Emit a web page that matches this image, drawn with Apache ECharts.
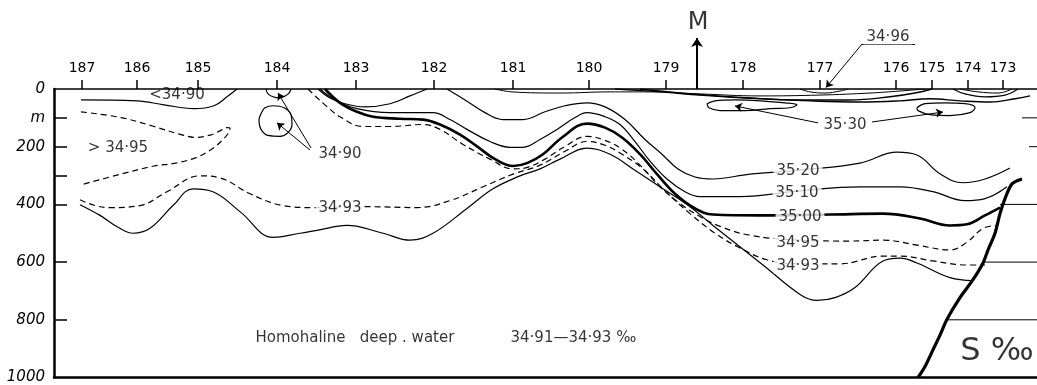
<!DOCTYPE html>
<html><head><meta charset="utf-8">
<script src="https://cdn.jsdelivr.net/npm/echarts@6/dist/echarts.min.js"></script>
<style>html,body{margin:0;padding:0;background:#fff}#c{width:1037px;height:385px}</style>
</head><body><div id="c"></div>
<script>
// ---- axes ----
const stations   = [187,186,185,184,183,182,181,180,179,178,177,176,175,174,173];
const stationPos = [28,83,144,223,302,380,459,535,612,689,766,842,878,914,949]; // distance along section
const depthTicks  = [100,200,300,400,600,800];
const depthLabels = [0,100,200,400,600,800,1000];
const depthUnit = 'm';

// ---- isohalines: [distance, depth m] ----
const iso3520a = [[264,0],[276,31],[291,51],[311,62],[336,51],[356,24],[373,0]];
const iso3520b = [[393,0],[411,38],[431,82],[449,106],[469,106],[491,79],[511,58],[533,48],[551,62],[571,106],[591,175],[608,226],[624,277],[641,305],[659,312],[696,295],[746,281],[806,257],[843,219],[863,229],[886,294],[909,325],[931,312],[956,274]];
const iso3510 = [[266,0],[281,38],[303,68],[336,82],[379,82],[396,106],[413,140],[436,182],[456,202],[469,202],[486,175],[503,140],[521,99],[533,82],[551,96],[566,123],[581,182],[596,250],[613,312],[631,356],[646,373],[686,373],[746,353],[806,339],[846,339],[879,356],[911,387],[931,380],[953,339]];
const iso3500 = [[271,0],[286,48],[303,79],[319,96],[346,103],[369,106],[386,123],[406,158],[423,199],[441,243],[459,267],[473,257],[489,226],[508,168],[533,120],[551,134],[568,168],[586,226],[603,295],[621,363],[641,414],[659,435],[706,438],[776,435],[829,432],[866,449],[896,473],[913,469],[931,438],[946,411]];
const iso3495 = [[254,0],[262,27],[271,55],[286,96],[309,130],[336,130],[369,123],[386,140],[409,192],[436,243],[459,277],[474,271],[491,243],[511,199],[533,164],[551,178],[568,209],[586,264],[606,339],[626,397],[646,442],[666,476],[696,507],[746,524],[796,527],[829,524],[863,541],[896,558],[913,531],[929,483],[944,473]];
const iso3493 = [[26,384],[41,404],[56,411],[86,404],[113,356],[146,301],[166,308],[196,363],[229,404],[259,411],[313,408],[363,411],[396,387],[429,339],[459,295],[486,264],[511,216],[533,182],[551,195],[568,226],[589,277],[611,353],[636,432],[661,500],[686,551],[713,592],[746,606],[786,606],[829,579],[846,579],[879,596],[913,610],[931,610]];
const isoDeep = [[26,401],[46,438],[64,479],[79,500],[96,483],[119,404],[139,346],[159,356],[186,425],[219,514],[246,500],[263,490],[293,473],[329,500],[356,524],[379,500],[413,414],[439,346],[466,301],[486,277],[506,243],[533,205],[556,226],[579,277],[609,346],[636,408],[659,473],[709,610],[746,712],[763,733],[781,723],[801,688],[829,596],[846,586],[863,603],[896,654],[919,664]];
const iso3490top  = [[27,38],[83,41],[110,55],[140,68],[160,58],[173,27],[183,0]];
const iso3495hook = [[27,79],[67,99],[100,130],[127,158],[142,168],[156,160],[166,145],[172,134],[176,135],[175,150],[169,175],[158,208],[142,238],[120,258],[100,267],[67,295],[27,332]];
const iso3490semi = [[212,0],[214,17],[219,27],[225,31],[231,24],[235,14],[237,0]];
const iso3490loop = [[208,79],[211,65],[219,58],[230,65],[237,89],[238,123],[234,151],[226,164],[214,161],[207,140],[205,110],[208,79]];
const lens3530a = [[653,51],[661,41],[681,38],[706,41],[731,48],[743,55],[736,65],[716,68],[691,75],[666,75],[655,65],[653,51]];
const lens3530b = [[863,65],[871,51],[891,48],[911,51],[921,65],[916,82],[896,92],[876,89],[864,75],[863,65]];
const surf1 = [[441,0],[458,10],[506,14],[556,10],[596,10],[646,17],[706,24],[766,21],[816,14],[846,7],[871,0]];
const surf2 = [[561,0],[606,10],[646,21],[691,31],[746,38],[796,38],[836,27],[861,14],[878,0]];
const surf3 = [[586,0],[636,17],[696,31],[756,41],[806,45],[846,41],[876,34],[906,41],[936,45],[961,34],[976,24]];
const lens3496 = [[746,0],[756,10],[771,14],[786,7],[794,0]];
const surf174a = [[899,0],[911,17],[931,27],[951,21],[964,0]];
const surf174b = [[906,0],[924,10],[944,14],[958,0]];
// S‰ vertical profile inset
const profileS = [[968,312],[958,329],[951,380],[946,432],[941,500],[934,558],[929,603],[919,661],[906,723],[893,798],[886,853],[878,911],[871,962],[864,1000]];
const profileGrid = [[[968,100],[983,100]],[[975,200],[983,200]],[[946,400],[983,400]],[[929,600],[983,600]],[[893,800],[983,800]]];

// ---- texts [text, distance, depth] ----
const inlineTexts = [['35·20',744,281],['35·10',743,356],['35·00',746,438],['34·95',744,527],['34·93',744,606],['34·93',286,408],['35·30',791,123],['34·90',286,223],['34·96',834,-178]];
const freeTexts = [['<34·90',123,21],['> 34·95',64,202]];
const noteTexts = [['Homohaline   deep . water',201,853],['34·91—34·93 ‰',456,853]];
const bigTexts = [['S ‰',943,901,32],['M',644,-226,24]];
// leader lines [x1,d1,x2,d2,arrowAtEnd]
const leaders = [[764,116,681,58,1],[818,113,889,79,1],[257,202,224,14,1],[256,209,223,116,1],[808,-154,861,-154,0],[808,-154,772,-5,1]];
const mArrow = [643,0,643,-175];

const FONT = 'DejaVu Sans';
function iso(data, extra) {
  const s = {type:'line', xAxisIndex:0, yAxisIndex:0, data:data, smooth:0.4, symbol:'none', silent:true, z:2,
    lineStyle:{color:'#000', width:1.2}};
  return Object.assign(s, extra || {});
}
const dashed = {color:'#000', width:1.2, type:[6,4]};
function textSeries(items, label) {
  return {type:'scatter', xAxisIndex:2, yAxisIndex:1, symbolSize:1, silent:true, z:10,
    itemStyle:{color:'rgba(0,0,0,0)'},
    label:Object.assign({show:true, position:'inside', formatter:'{b}', color:'#000', fontFamily:FONT, fontSize:15}, label),
    data:items.map(t => ({name:t[0], value:[t[1], t[2]], label: t[3] ? {fontSize:t[3]} : undefined}))};
}

const series = [
  iso(iso3520a), iso(iso3520b), iso(iso3510),
  iso(iso3500, {lineStyle:{color:'#000', width:2.6}}),
  iso(iso3495, {lineStyle:dashed}), iso(iso3493, {lineStyle:dashed}),
  iso(isoDeep),
  iso(iso3490top), iso(iso3495hook, {lineStyle:dashed, smooth:0.35}),
  iso(iso3490semi), iso(iso3490loop), iso(lens3530a), iso(lens3530b),
  iso(surf1, {lineStyle:{color:'#000', width:1}}), iso(surf2, {lineStyle:{color:'#000', width:1.4}}),
  iso(surf3, {lineStyle:{color:'#000', width:1.4}}), iso(lens3496, {lineStyle:{color:'#000', width:1}}),
  iso(surf174a), iso(surf174b, {lineStyle:{color:'#000', width:1}}),
  iso(profileS, {lineStyle:{color:'#000', width:3.2}, smooth:0.3, z:3})
];
profileGrid.forEach(g => series.push(iso(g, {smooth:false, lineStyle:{color:'#000', width:1}})));
series.push(textSeries(inlineTexts, {backgroundColor:'#fff', padding:[0,3]}));
series.push(textSeries(freeTexts, {}));
series.push(textSeries(noteTexts, {position:'right', distance:0, fontSize:15}));
series.push(textSeries(bigTexts, {}));
series.push({type:'line', xAxisIndex:2, yAxisIndex:1, data:[], symbol:'none', silent:true, z:9,
  markLine:{silent:true, symbolSize:7, label:{show:false}, lineStyle:{color:'#000', width:1, type:'solid'},
    emphasis:{disabled:true},
    data:leaders.map(l => [{coord:[l[0],l[1]], symbol:'none'}, {coord:[l[2],l[3]], symbol:l[4] ? 'arrow' : 'none'}])}});
series.push({type:'line', xAxisIndex:2, yAxisIndex:1, data:[], symbol:'none', silent:true, z:9,
  markLine:{silent:true, symbolSize:9, label:{show:false}, lineStyle:{color:'#000', width:2, type:'solid'},
    emphasis:{disabled:true},
    data:[[{coord:[mArrow[0],mArrow[1]], symbol:'none'}, {coord:[mArrow[2],mArrow[3]], symbol:'arrow'}]]}});

const chart = echarts.init(document.getElementById('c'));
chart.setOption({
  animation:false,
  backgroundColor:'#fff',
  grid:[{left:54, right:0, top:89, bottom:4}, {left:54, right:0, top:1.4, bottom:4}],
  xAxis:[
    {type:'value', gridIndex:0, position:'top', min:0, max:983,
      axisLine:{show:true, lineStyle:{color:'#000', width:1.5}},
      axisTick:{show:true, customValues:stationPos, length:9, lineStyle:{color:'#000', width:1.5}},
      axisLabel:{show:true, customValues:stationPos, margin:14, color:'#000', fontFamily:FONT, fontSize:14,
        formatter:v => { const i = stationPos.indexOf(v); return i >= 0 ? String(stations[i]) : ''; }},
      splitLine:{show:false}},
    {type:'value', gridIndex:0, position:'bottom', min:0, max:983,
      axisLine:{show:true, lineStyle:{color:'#000', width:2.5}}, axisTick:{show:false}, axisLabel:{show:false}, splitLine:{show:false}},
    {type:'value', gridIndex:1, min:0, max:983, show:false}
  ],
  yAxis:[
    {type:'value', gridIndex:0, inverse:true, min:0, max:1000,
      axisLine:{show:true, lineStyle:{color:'#000', width:2.5}},
      axisTick:{show:true, inside:true, customValues:depthTicks, length:13, lineStyle:{color:'#000', width:1.5}},
      axisLabel:{show:true, customValues:depthLabels, margin:9, color:'#000', fontFamily:FONT, fontSize:15, fontStyle:'italic',
        formatter:v => v === 100 ? depthUnit : String(v)},
      splitLine:{show:false}},
    {type:'value', gridIndex:1, inverse:true, min:-300, max:1000, show:false}
  ],
  series:series
});
</script>
</body></html>
